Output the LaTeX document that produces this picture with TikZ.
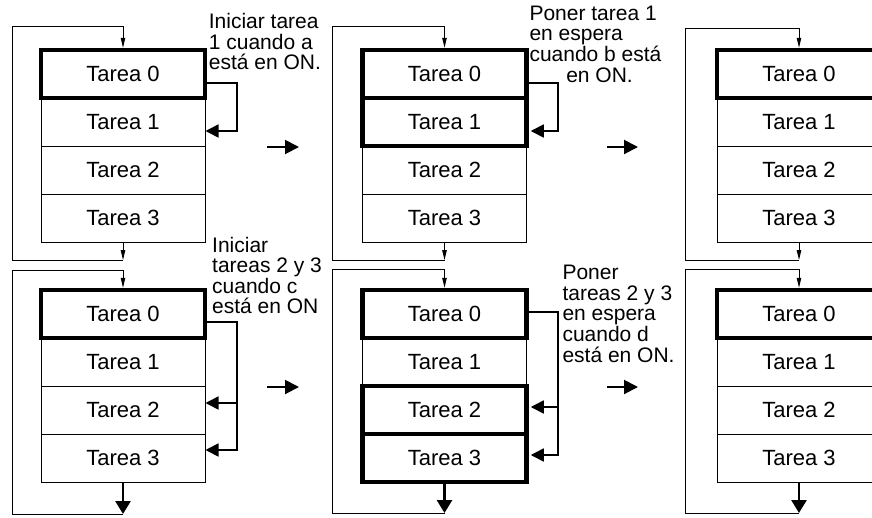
\documentclass[tikz,border=0pt]{standalone}
\usepackage{fontspec}
\setmainfont{Liberation Sans}
\usetikzlibrary{arrows.meta}

\begin{document}
\begin{tikzpicture}[
  x=1pt, y=-1pt,
  every node/.style={font=\fontsize{21}{20.6}\selectfont},
  tarea/.style={draw, line width=1pt, minimum width=164pt, minimum height=48pt, inner sep=0pt,
                font=\fontsize{22}{22}\selectfont},
  activa/.style={tarea, line width=4.5pt},
  lbl/.style={anchor=north west, inner sep=0pt, align=left},
  lazo/.style={line width=1pt},
  baja/.style={-{Triangle[length=10pt,width=4.5pt]}, line width=1pt},
  sale/.style={-{Triangle[length=13pt,width=15pt]}, line width=2.7pt},
  enlace/.style={-{Triangle[length=13pt,width=13pt]}, line width=1.6pt},
  paso/.style={-{Triangle[length=14pt,width=14pt]}, line width=2pt}
]
\useasboundingbox (0,0) rectangle (872,517);

\node[activa] (a0) at (123,74)  {Tarea 0};
\node[tarea]  (a1) at (123,122) {Tarea 1};
\node[tarea]  (a2) at (123,170) {Tarea 2};
\node[tarea]  (a3) at (123,218) {Tarea 3};

\node[activa] (b0) at (444.5,74)  {Tarea 0};
\node[activa] (b1) at (444.5,122) {Tarea 1};
\node[tarea]  (b2) at (444.5,170) {Tarea 2};
\node[tarea]  (b3) at (444.5,218) {Tarea 3};

\node[activa] (c0) at (799,74)  {Tarea 0};
\node[tarea]  (c1) at (799,122) {Tarea 1};
\node[tarea]  (c2) at (799,170) {Tarea 2};
\node[tarea]  (c3) at (799,218) {Tarea 3};

\node[activa] (d0) at (123,314) {Tarea 0};
\node[tarea]  (d1) at (123,362) {Tarea 1};
\node[tarea]  (d2) at (123,410) {Tarea 2};
\node[tarea]  (d3) at (123,458) {Tarea 3};

\node[activa] (e0) at (444.5,314) {Tarea 0};
\node[tarea]  (e1) at (444.5,362) {Tarea 1};
\node[activa] (e2) at (444.5,410) {Tarea 2};
\node[activa] (e3) at (444.5,458) {Tarea 3};

\node[activa] (f0) at (799,314) {Tarea 0};
\node[tarea]  (f1) at (799,362) {Tarea 1};
\node[tarea]  (f2) at (799,410) {Tarea 2};
\node[tarea]  (f3) at (799,458) {Tarea 3};

\coordinate (aSup) at (12,26);   \coordinate (aInf) at (12,260);
\coordinate (bSup) at (332,26);  \coordinate (bInf) at (332,260);
\coordinate (cSup) at (685,28);  \coordinate (cInf) at (685,260);
\coordinate (dSup) at (12,270);  \coordinate (dInf) at (12,514);
\coordinate (eSup) at (332,269); \coordinate (eInf) at (332,513);
\coordinate (fSup) at (685,269); \coordinate (fInf) at (685,513);

\draw[lazo] (a3.south |- aInf) -- (aInf) -- (aSup) -- (a0.north |- aSup);
\draw[baja] (a0.north |- aSup) -- (a0.north);
\draw[baja] (a3.south) -- (a3.south |- aInf);
\draw[lazo] (b3.south |- bInf) -- (bInf) -- (bSup) -- (b0.north |- bSup);
\draw[baja] (b0.north |- bSup) -- (b0.north);
\draw[baja] (b3.south) -- (b3.south |- bInf);
\draw[lazo] (c3.south |- cInf) -- (cInf) -- (cSup) -- (c0.north |- cSup);
\draw[baja] (c0.north |- cSup) -- (c0.north);
\draw[baja] (c3.south) -- (c3.south |- cInf);

\draw[lazo] (d3.south |- dInf) -- (dInf) -- (dSup) -- (d0.north |- dSup);
\draw[baja] (d0.north |- dSup) -- (d0.north);
\draw[sale] (d3.south) -- (d3.south |- dInf);
\draw[lazo] (e3.south |- eInf) -- (eInf) -- (eSup) -- (e0.north |- eSup);
\draw[baja] (e0.north |- eSup) -- (e0.north);
\draw[sale] (e3.south) -- (e3.south |- eInf);
\draw[lazo] (f3.south |- fInf) -- (fInf) -- (fSup) -- (f0.north |- fSup);
\draw[baja] (f0.north |- fSup) -- (f0.north);
\draw[sale] (f3.south) -- (f3.south |- fInf);

\draw[enlace] ([yshift=-9pt]a0.east) -- ++(30,0) |- ([yshift=-9pt]a1.east);
\draw[enlace, shorten >=2pt] ([yshift=-9pt]b0.east) -- ++(29.5,0) |- ([yshift=-9pt]b1.east);
\draw[enlace] ([yshift=-8pt]d0.east) -- ++(30,0) |- ([yshift=8pt]d3.east);
\draw[enlace] ([xshift=30pt,yshift=7pt]d2.east) -- ([yshift=7pt]d2.east);
\draw[enlace, shorten >=2pt] ([yshift=2pt]e0.east) -- ++(29.5,0) |- ([yshift=3pt]e3.east);
\draw[enlace, shorten >=2pt] ([xshift=29.5pt,yshift=3pt]e2.east) -- ([yshift=3pt]e2.east);

\coordinate (pa) at (267,147); \coordinate (pb) at (299,147);
\coordinate (pc) at (607,147); \coordinate (pd) at (638,147);
\coordinate (pe) at (267,387); \coordinate (pf) at (299,387);
\coordinate (pg) at (607,387); \coordinate (ph) at (638,387);
\draw[paso] (pa) -- (pb);
\draw[paso] (pc) -- (pd);
\draw[paso] (pe) -- (pf);
\draw[paso] (pg) -- (ph);

\node[lbl] (t1) at (208.7,13.3) {Iniciar tarea\\1 cuando a\\está en ON.};
\node[lbl] (t2) at (529.3,5.7)  {Poner tarea 1\\en espera\\cuando b está\\\hspace*{36.8pt}en ON.};
\node[lbl] (t3) at (212,236.7)  {Iniciar\\tareas 2 y 3\\cuando c\\está en ON};
\node[lbl] (t4) at (562.3,265)  {Poner\\tareas 2 y 3\\en espera\\cuando d\\está en ON.};

\end{tikzpicture}
\end{document}
